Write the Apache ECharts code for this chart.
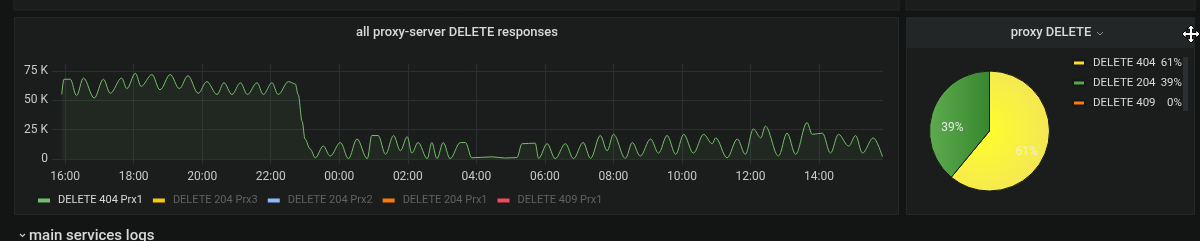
<!DOCTYPE html>
<html><head><meta charset="utf-8">
<script src="https://cdn.jsdelivr.net/npm/echarts@6/dist/echarts.min.js"></script>
<style>html,body{margin:0;padding:0;background:#131414;}#c{width:1200px;height:241px;}</style>
</head><body><div id="c"></div>
<script>
// ---- data ----
const lineTimes = ['15:54','15:58','16:09','16:20','16:32','16:51','17:07','17:19','17:39','17:48','18:03','18:13','18:32','18:46','19:04','19:20','19:35','19:53','20:08','20:26','20:38','20:52','21:07','21:19','21:36','21:47','22:02','22:13','22:31','22:43','22:48','22:55','23:00','23:09','23:18','23:32','23:44','00:02','00:16','00:31','00:49','00:57','01:08','01:21','01:35','01:47','01:59','02:07','02:18','02:34','02:42','02:51','03:02','03:14','03:32','03:41','03:52','04:27','04:51','05:11','05:20','05:43','05:49','06:04','06:18','06:36','06:50','07:07','07:20','07:37','07:49','08:00','08:21','08:33','08:47','09:05','09:19','09:34','09:49','10:03','10:20','10:38','10:53','10:59','11:19','11:37','11:51','12:05','12:18','12:26','12:49','13:04','13:19','13:39','13:48','14:06','14:20','14:34','14:52','15:04','15:16','15:35','15:51'];
const delete404Prx1K = [55,68,68,54,69,52,68,56,69,60,73,62,72,59,72,60,71,56,66,55,65,55,65,55,65,55,65,55,66,64,55,32,17,8.5,1,11,2.5,14,0.3,17,0.3,20,20,4,20,7,19,5,14,0.3,14,0.3,14,0.3,14,14,1,1.8,0.8,1.2,13,13.5,0.5,13,0.3,13,0.3,14,0.5,20,7,21,0.5,14,2.5,17,5,20,4,21,5,21,13,18,1,17,4,25.6,18,28,2.5,22,4,31,21,22,5,21,11,20,5,18,2];
const lineSeriesNames = ['DELETE 404 Prx1','DELETE 204 Prx3','DELETE 204 Prx2','DELETE 204 Prx1','DELETE 409 Prx1'];
const lineSeriesColors = ['#73BF69','#F2CC0C','#8AB8FF','#FF780A','#F2495C'];
const xRange = ['15:37','15:52'];
const xTickLabels = ['16:00','18:00','20:00','22:00','00:00','02:00','04:00','06:00','08:00','10:00','12:00','14:00'];
const yTicks = [0,25000,50000,75000];
const pieNames = ['DELETE 404','DELETE 204','DELETE 409'];
const pieValues = [61,39,0];
const pieColors = ['#FADE2A','#56A64B','#FF780A'];

// ---- helpers (time in minutes from 00:00 of day 1) ----
function toMin(hhmm, day){ const [h,m]=hhmm.split(':').map(Number); return day*1440 + h*60 + m; }
function withDays(list){ let d=0, prev=-1; return list.map(t=>{ const mm=toMin(t,0); if(mm<prev) d++; prev=mm; return mm + d*1440; }); }
const lineX = withDays(lineTimes);
const lineData = lineX.map((x,i)=>[x, delete404Prx1K[i]*1000]);
const xTickVals = withDays(xTickLabels);
const pad2 = n => (n<10?'0':'')+n;
const fmtMin = v => { const m = ((Math.round(v)%1440)+1440)%1440; return pad2(Math.floor(m/60))+':'+pad2(m%60); };
const pieTotal = pieValues.reduce((a,b)=>a+b,0);
const piePct = pieValues.map(v=>Math.round(v/pieTotal*100));

const series = lineSeriesNames.map((n,i)=>({
  name:n, type:'line', data: i===0 ? lineData : [], smooth:0.35, smoothMonotone:'x',
  symbol:'none', color: lineSeriesColors[i],
  lineStyle:{width:1, color: lineSeriesColors[i]},
  areaStyle: i===0 ? {color:'rgba(115,191,105,0.10)'} : undefined
}));

const yellowGrad = new echarts.graphic.RadialGradient(0.3,0.5,0.8,[{offset:0,color:'#FFFF2A'},{offset:1,color:'#F2E35A'}]);
const greenGrad = new echarts.graphic.LinearGradient(0,0,1,0,[{offset:0,color:'#5DAB4E'},{offset:1,color:'#37872D'}]);

series.push({
  name:'pie', type:'pie', center:[989.5,131], radius:60, startAngle:90, clockwise:true,
  legendHoverLink:false,
  itemStyle:{borderColor:'#161817', borderWidth:1},
  label:{position:'inside', color:'#e6e6e6', fontSize:12, fontFamily:'Roboto',
         formatter:p=> p.value ? Math.round(p.percent)+'%' : ''},
  labelLayout: p => p.dataIndex===1 ? {dx:-6, dy:8} : (p.dataIndex===0 ? {dx:6, dy:10} : {}),
  emphasis:{disabled:true},
  data: pieNames.map((n,i)=>({name:n, value:pieValues[i],
    itemStyle:{color: i===0?yellowGrad:(i===1?greenGrad:pieColors[i])},
    label:{show: pieValues[i]>0, color: i===0 ? '#f4f1c8' : '#e6e6e6'}}))
});

const panelBg = '#1b1d1c', panelBorder = '#242727';
const option = {
  backgroundColor:'#131414',
  animation:false,
  textStyle:{fontFamily:'Roboto'},
  grid:{left:52, right:317, top:64, bottom:77, containLabel:false},
  xAxis:{type:'value', min:toMin(xRange[0],0), max:toMin(xRange[1],1),
    axisLine:{show:false},
    axisTick:{show:false, customValues:xTickVals},
    splitLine:{show:true, lineStyle:{color:'#2c2f30', width:1}},
    axisLabel:{customValues:xTickVals, color:'#c7c8c9', fontSize:12, margin:7, hideOverlap:false, formatter:fmtMin}},
  yAxis:{type:'value', min:-4300, max:81000,
    axisLine:{show:false},
    axisTick:{show:false, customValues:yTicks},
    splitLine:{show:true, lineStyle:{color:'#2c2f30', width:1}},
    axisLabel:{customValues:yTicks, color:'#c7c8c9', fontSize:12, margin:4,
      formatter:v=> v===0 ? '0' : (v/1000)+' K'}},
  legend:[{
    data: lineSeriesNames.map((n,i)=>({name:n, textStyle:{color: i===0?'#d8d9da':'#5f6163'}})),
    left:33, top:190, itemWidth:12, itemHeight:4, icon:'rect', itemGap:10,
    textStyle:{fontSize:11, fontFamily:'Roboto', padding:[0,0,0,3]},
    selectedMode:false
  },{
    data: pieNames.map((n,i)=>({name:n, itemStyle:{color:pieColors[i]}})),
    orient:'vertical', left:1067, top:52, itemWidth:12, itemHeight:5, icon:'rect', itemGap:8,
    selectedMode:false,
    formatter: n => { const i=pieNames.indexOf(n); return '{a|'+n+'}{b|'+piePct[i]+'%}'; },
    textStyle:{color:'#d8d9da', fontSize:11.5, fontFamily:'Roboto', padding:[0,0,0,3],
      rich:{a:{width:66, color:'#d8d9da', fontSize:11.5, lineHeight:14}, b:{width:23, align:'right', color:'#d8d9da', fontSize:11.5, lineHeight:14}}}
  }],
  graphic:[
    {type:'rect', z:-10, shape:{x:14,y:-5,width:885,height:15}, style:{fill:panelBg, stroke:panelBorder}},
    {type:'rect', z:-10, shape:{x:906,y:-5,width:289,height:15}, style:{fill:panelBg, stroke:panelBorder}},
    {type:'rect', z:-10, shape:{x:14.5,y:17.5,width:884,height:197}, style:{fill:panelBg, stroke:panelBorder}},
    {type:'rect', z:-10, shape:{x:906.5,y:17.5,width:288,height:197}, style:{fill:panelBg, stroke:panelBorder}},
    {type:'rect', z:-9, shape:{x:907,y:18,width:287,height:30}, style:{fill:'#222627'}},
    {type:'text', z:5, style:{text:'all proxy-server DELETE responses', x:457, y:33, align:'center', verticalAlign:'middle', fill:'#d8d9da', font:'500 13px Roboto'}},
    {type:'text', z:5, style:{text:'proxy DELETE', x:1051, y:33, align:'center', verticalAlign:'middle', fill:'#d8d9da', font:'500 13px Roboto'}},
    {type:'polyline', z:5, shape:{points:[[1097,32],[1100,35],[1103,32]]}, style:{stroke:'#8e8e8e', lineWidth:1, fill:null}},
    {type:'rect', z:5, shape:{x:1183,y:57,width:5,height:54}, style:{fill:'#2c2f31'}},
    {type:'polygon', z:20, shape:{points:[[1191,25],[1195,29],[1192.5,29],[1192.5,32.5],[1196,32.5],[1196,30],[1200,34],[1196,38],[1196,35.5],[1192.5,35.5],[1192.5,39],[1195,39],[1191,43],[1187,39],[1189.5,39],[1189.5,35.5],[1186,35.5],[1186,38],[1182,34],[1186,30],[1186,32.5],[1189.5,32.5],[1189.5,29],[1187,29]]}, style:{fill:'#ffffff', stroke:'#000000', lineWidth:1}},
    {type:'polyline', z:5, shape:{points:[[20,234],[22.5,236.5],[25,234]]}, style:{stroke:'#c8c9ca', lineWidth:1.2, fill:null}},
    {type:'text', z:5, style:{text:'main services logs', x:29, y:236, verticalAlign:'middle', fill:'#d8d9da', font:'500 15px Roboto'}}
  ],
  series: series
};
const chart = echarts.init(document.getElementById('c'), null, {renderer:'canvas'});
chart.setOption(option);
</script></body></html>
